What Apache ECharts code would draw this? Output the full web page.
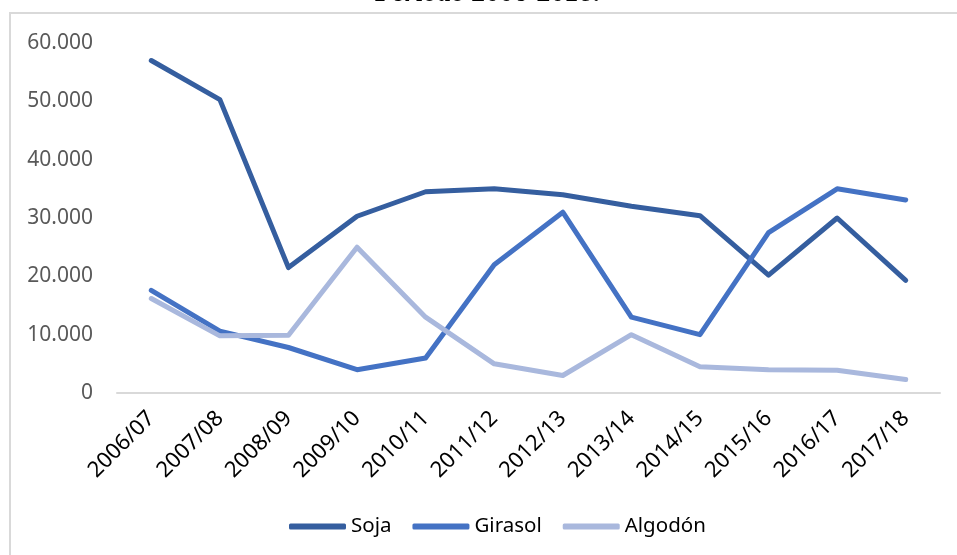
<!DOCTYPE html>
<html>
<head>
<meta charset="utf-8">
<script src="https://cdn.jsdelivr.net/npm/echarts@6/dist/echarts.min.js"></script>
<style>
html,body{margin:0;padding:0;background:#fff;}
#chart{width:957px;height:555px;}
</style>
</head>
<body>
<div id="chart"></div>
<script>
// campañas
var campanias = ['2006/07','2007/08','2008/09','2009/10','2010/11','2011/12','2012/13','2013/14','2014/15','2015/16','2016/17','2017/18'];
var soja = [57000, 50300, 21500, 30300, 34500, 35000, 34000, 32000, 30400, 20200, 30000, 19300];
var girasol = [17600, 10600, 7800, 4000, 6000, 22000, 31000, 13000, 10000, 27500, 35000, 33100];
var algodon = [16200, 9800, 9900, 25000, 13000, 5000, 3000, 10000, 4500, 4000, 3900, 2300];
var yTicks = [0, 10000, 20000, 30000, 40000, 50000, 60000];

var fuente = '"Noto Sans", "Open Sans", sans-serif';

// separador de miles con punto
function miles(v){
	return String(v).replace(/\B(?=(\d{3})+(?!\d))/g, '.');
}

function serie(nombre, datos, color){
	return {
		name: nombre,
		type: 'line',
		data: datos,
		symbol: 'none',
		smooth: false,
		lineStyle: {width: 5, color: color, cap: 'round', join: 'round'},
		itemStyle: {color: color}
	};
}

var myChart = echarts.init(document.getElementById('chart'));
var option = {
	animation: false,
	backgroundColor: '#fff',
	graphic: [
		{
			type: 'rect',
			shape: {x: 10, y: 13, width: 960, height: 560},
			style: {fill: 'none', stroke: '#D9D9D9', lineWidth: 2},
			silent: true
		},
		{
			type: 'text',
			x: 488, y: 8,
			style: {
				text: 'Período 2006-2018.',
				fontFamily: '"Liberation Serif", "DejaVu Serif", serif',
				fontSize: 28,
				fontStyle: 'italic',
				fontWeight: 'bold',
				fill: '#000',
				align: 'center',
				verticalAlign: 'bottom'
			}
		}
	],
	legend: {
		data: ['Soja','Girasol','Algodón'],
		left: 284,
		top: 511,
		icon: 'roundRect',
		itemWidth: 57,
		itemHeight: 6,
		itemGap: 21,
		textStyle: {fontFamily: fuente, fontSize: 20.5, color: '#000'}
	},
	grid: {left: 117, right: 17, top: 43, bottom: 162, outerBoundsMode: 'none'},
	xAxis: {
		type: 'category',
		data: campanias,
		boundaryGap: true,
		axisLine: {lineStyle: {color: '#D9D9D9', width: 2}},
		axisTick: {show: false},
		axisLabel: {
			rotate: 45,
			interval: 0,
			margin: 22,
			color: '#000',
			fontFamily: fuente,
			fontSize: 22
		}
	},
	yAxis: {
		type: 'value',
		min: yTicks[0],
		max: yTicks[yTicks.length - 1],
		interval: 10000,
		axisLine: {show: false},
		axisTick: {show: false},
		splitLine: {show: false},
		axisLabel: {
			margin: 24,
			color: '#595959',
			fontFamily: fuente,
			fontSize: 21,
			formatter: function(v){ return miles(v); }
		}
	},
	series: [
		serie('Soja', soja, '#355E9F'),
		serie('Girasol', girasol, '#4472C4'),
		serie('Algodón', algodon, '#A9B8DD')
	]
};
myChart.setOption(option);
</script>
</body>
</html>
